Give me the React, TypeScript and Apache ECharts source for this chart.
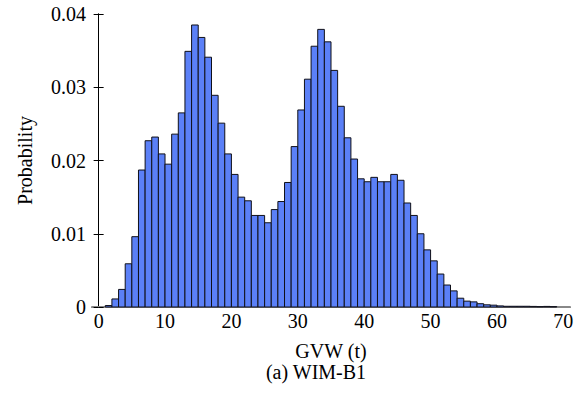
import React, { useEffect, useRef } from "react";
import * as echarts from "echarts";

// GVW bins: bin k spans [k, k+1] tonnes
const binStarts: number[] = [
  1, 2, 3, 4, 5, 6, 7, 8, 9, 10, 11, 12, 13, 14, 15, 16, 17, 18, 19, 20,
  21, 22, 23, 24, 25, 26, 27, 28, 29, 30, 31, 32, 33, 34, 35, 36, 37, 38, 39, 40,
  41, 42, 43, 44, 45, 46, 47, 48, 49, 50, 51, 52, 53, 54, 55, 56, 57, 58, 59, 60,
  61, 62, 63, 64, 65, 66, 67, 68,
];
const probabilities: number[] = [
  0.0002, 0.0011, 0.0024, 0.0059, 0.0096, 0.0187, 0.0227, 0.0232, 0.0209, 0.0195,
  0.0236, 0.0265, 0.0349, 0.0385, 0.0368, 0.0341, 0.0289, 0.0251, 0.0209, 0.0181,
  0.0150, 0.0145, 0.0125, 0.0125, 0.0115, 0.0133, 0.0144, 0.0170, 0.0219, 0.0269,
  0.0311, 0.0356, 0.0379, 0.0362, 0.0323, 0.0274, 0.0231, 0.0202, 0.0175, 0.0171,
  0.0177, 0.0171, 0.0171, 0.0181, 0.0173, 0.0142, 0.0125, 0.0100, 0.0078, 0.0063,
  0.0045, 0.0030, 0.0022, 0.0012, 0.0008, 0.0007, 0.00045, 0.0003, 0.00025, 0.00015,
  0.0001, 0.0001, 0.0001, 0.0001, 0.00008, 0.00005, 0.00008, 0.00005,
];
const binWidth = 1;
const xTicks: number[] = [0, 10, 20, 30, 40, 50, 60, 70];
const yTicks: number[] = [0, 0.01, 0.02, 0.03, 0.04];
const xLabel = "GVW (t)";
const yLabel = "Probability";
const caption = "(a) WIM-B1";

const FONT = "'Liberation Serif', 'Times New Roman', serif";
const FS = 20;

export default function App() {
  const ref = useRef<HTMLDivElement>(null);
  useEffect(() => {
    if (!ref.current) return;
    const chart = echarts.init(ref.current, null, { renderer: "svg" });
    const data = binStarts.map((s, i) => [s, s + binWidth, probabilities[i]]);
    chart.setOption({
      animation: false,
      backgroundColor: "#fff",
      textStyle: { fontFamily: FONT, color: "#000" },
      grid: { left: 92, right: 11, top: 14, bottom: 96, show: false },
      xAxis: [
        {
          type: "value",
          min: -1,
          max: 71,
          position: "bottom",
          splitLine: { show: false },
          axisLine: { show: true, lineStyle: { color: "#000", width: 1 } },
          axisTick: { show: false },
          axisLabel: {
            customValues: xTicks,
            fontFamily: FONT,
            fontSize: FS,
            color: "#000",
            margin: 4,
          },
          name: xLabel,
          nameLocation: "middle",
          nameGap: 34,
          nameTextStyle: { fontFamily: FONT, fontSize: FS, color: "#000" },
        },
        {
          type: "value",
          min: -1,
          max: 71,
          position: "top",
          splitLine: { show: false },
          axisLine: { show: true, lineStyle: { color: "#888", width: 2 } },
          axisTick: { show: false },
          axisLabel: { show: false },
        },
      ],
      yAxis: [
        {
          type: "value",
          min: yTicks[0],
          max: yTicks[yTicks.length - 1],
          interval: 0.01,
          position: "left",
          splitLine: { show: false },
          axisLine: { show: true, lineStyle: { color: "#000", width: 1 } },
          axisTick: { show: true, inside: true, length: 5, lineStyle: { color: "#000" } },
          axisLabel: {
            fontFamily: FONT,
            fontSize: FS,
            color: "#000",
            margin: 6,
            formatter: (v: number) => (v === 0 ? "0" : v.toFixed(2)),
          },
          name: yLabel,
          nameLocation: "middle",
          nameGap: 57,
          nameTextStyle: { fontFamily: FONT, fontSize: FS, color: "#000" },
        },
        {
          type: "value",
          min: yTicks[0],
          max: yTicks[yTicks.length - 1],
          interval: 0.01,
          position: "right",
          splitLine: { show: false },
          axisLine: { show: true, lineStyle: { color: "#000", width: 1 } },
          axisTick: { show: true, inside: true, length: 5, lineStyle: { color: "#000" } },
          axisLabel: { show: false },
        },
      ],
      series: [
        {
          type: "custom",
          xAxisIndex: 0,
          yAxisIndex: 0,
          data,
          encode: { x: [0, 1], y: 2 },
          renderItem: (_params: any, api: any) => {
            const x0 = api.value(0);
            const x1 = api.value(1);
            const v = api.value(2);
            const p0 = api.coord([x0, v]);
            const p1 = api.coord([x1, 0]);
            return {
              type: "rect",
              shape: { x: p0[0], y: p0[1], width: p1[0] - p0[0], height: p1[1] - p0[1] },
              style: { fill: "#5b80f7", stroke: "#101018", lineWidth: 1 },
            };
          },
        },
      ],
      graphic: [
        {
          type: "text",
          x: 316,
          y: 372,
          style: {
            text: caption,
            font: `${FS}px ${FONT}`,
            fill: "#000",
            textAlign: "center",
            textVerticalAlign: "middle",
          },
        },
      ],
    });
    return () => chart.dispose();
  }, []);
  return (
    <div
      ref={ref}
      style={{ position: "fixed", left: 0, top: 0, width: 581, height: 403, background: "#fff" }}
    />
  );
}
